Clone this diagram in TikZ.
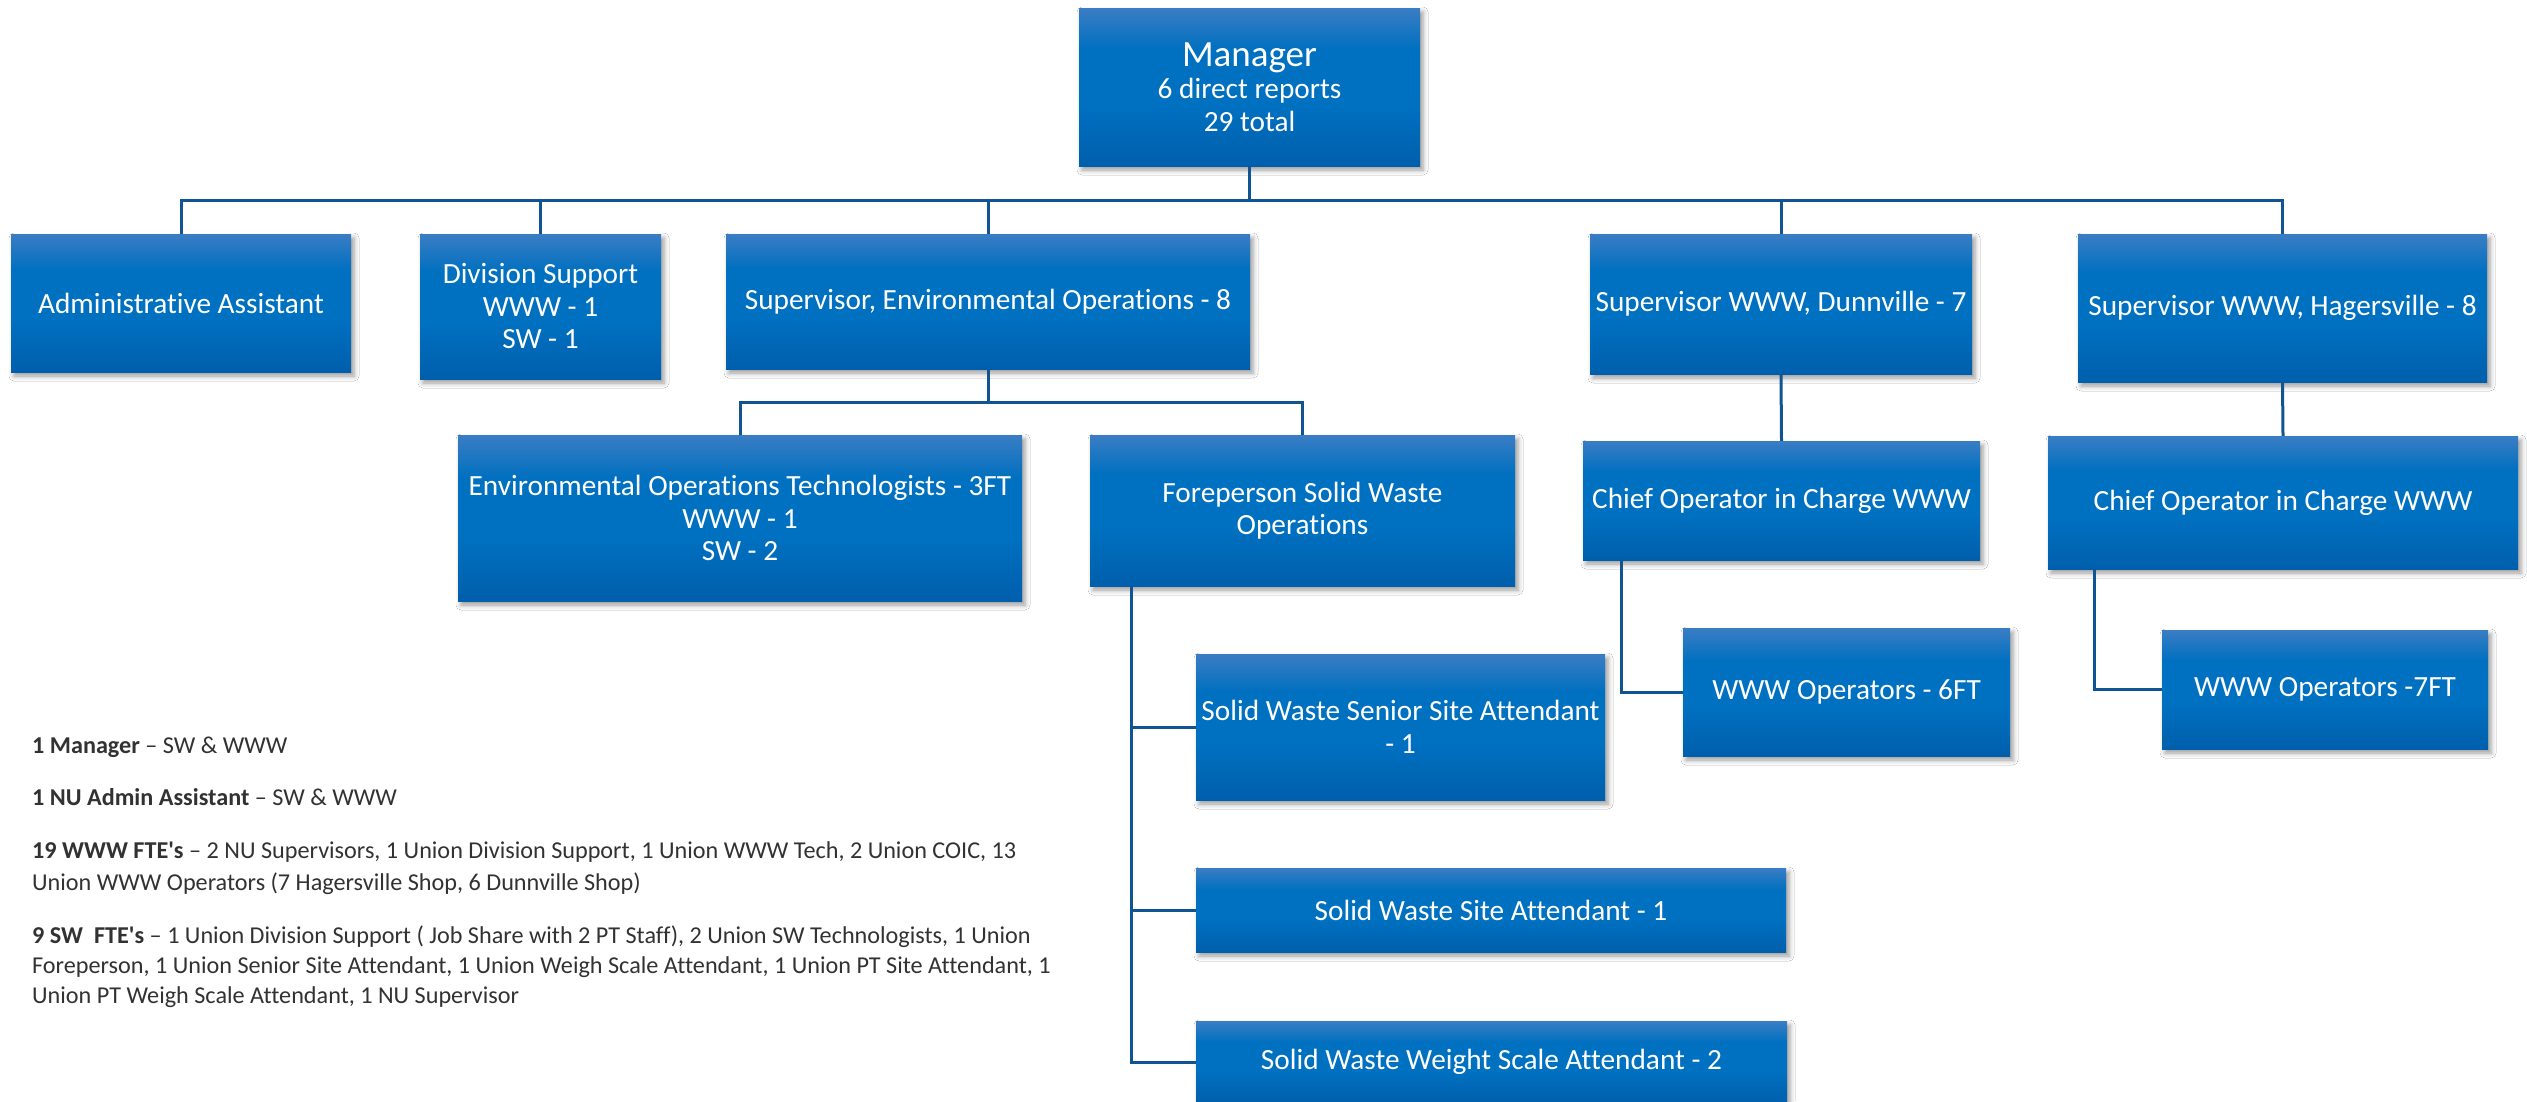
\documentclass[tikz,border=0pt]{standalone}
\usepackage{fontspec}
\setmainfont{Carlito}[Ligatures={NoCommon}]
\usetikzlibrary{shadows.blur}
\definecolor{orgtop}{RGB}{58,125,196}
\definecolor{orgmid}{RGB}{0,112,192}
\definecolor{orgbot}{RGB}{0,95,172}
\definecolor{connc}{RGB}{16,84,146}
\definecolor{notec}{RGB}{50,50,50}
\pgfdeclareverticalshading{orgshade}{100bp}{color(0bp)=(orgbot); color(25bp)=(orgbot); color(44bp)=(orgmid); color(62bp)=(orgmid); color(75bp)=(orgtop); color(100bp)=(orgtop)}
\begin{document}
\begin{tikzpicture}[x=1pt,y=-1pt,
  orgbox/.style={rectangle, inner sep=0pt, shade, shading=orgshade, text=white, align=center,
    font=\fontsize{29.3}{32.5}\selectfont,
    blur shadow={shadow xshift=3pt, shadow yshift=-4pt, shadow blur radius=5pt, shadow opacity=40}},
  conn/.style={draw=connc, line width=3pt},
  note/.style={anchor=base west, inner sep=0pt, text=notec, font=\fontsize{24.2}{31}\selectfont}]
\useasboundingbox (0,0) rectangle (2527,1101);
\fill[white] (0,0) rectangle (2527,1101);

% boxes
\node[orgbox, minimum width=341pt, minimum height=158pt] (mgr) at (1249.5,87)
  {{\fontsize{37}{40}\selectfont Manager}\\6 direct reports\\29 total};
\node[orgbox, minimum width=340pt, minimum height=138pt] (admin) at (181,303) {Administrative Assistant};
\node[orgbox, minimum width=241pt, minimum height=145pt] (divsup) at (540.5,306.5) {Division Support\\WWW - 1\\SW - 1};
\node[orgbox, minimum width=524pt, minimum height=135pt] (supenv) at (988,301.5) {Supervisor, Environmental Operations - 8};
\node[orgbox, minimum width=382pt, minimum height=140pt] (supdun) at (1781,304) {Supervisor WWW, Dunnville - 7};
\node[orgbox, minimum width=409pt, minimum height=148pt] (suphag) at (2282.5,308) {Supervisor WWW, Hagersville - 8};
\node[orgbox, minimum width=564pt, minimum height=166pt] (envtech) at (740,518) {Environmental Operations Technologists - 3FT\\WWW - 1\\SW - 2};
\node[orgbox, minimum width=425pt, minimum height=151pt] (fore) at (1302.5,510.5) {Foreperson Solid Waste\\Operations};
\node[orgbox, minimum width=397pt, minimum height=119pt] (chiefdun) at (1781.5,500.5) {Chief Operator in Charge WWW};
\node[orgbox, minimum width=470pt, minimum height=133pt] (chiefhag) at (2283,502.5) {Chief Operator in Charge WWW};
\node[orgbox, minimum width=327pt, minimum height=128pt] (opdun) at (1846.5,692) {WWW Operators - 6FT};
\node[orgbox, minimum width=326pt, minimum height=119pt] (ophag) at (2325,689.5) {WWW Operators -7FT};
\node[orgbox, minimum width=409pt, minimum height=146pt] (senior) at (1400.5,727) {Solid Waste Senior Site Attendant\\- 1};
\node[orgbox, minimum width=590pt, minimum height=84pt] (site) at (1491,910) {Solid Waste Site Attendant - 1};
\node[orgbox, minimum width=591pt, minimum height=82pt] (weight) at (1491.5,1062) {Solid Waste Weight Scale Attendant - 2};

% connectors
\coordinate (bus) at (0,200);
\coordinate (bus2) at (0,402);
\foreach \c in {admin,divsup,supenv,supdun,suphag}
  \draw[conn] (mgr.south) |- (\c.north |- bus) -- (\c.north);
\foreach \c in {envtech,fore}
  \draw[conn] (supenv.south) |- (\c.north |- bus2) -- (\c.north);
\draw[conn] (supdun.south) -- (chiefdun.north);
\draw[conn] (suphag.south) -- (chiefhag.north);
\foreach \c in {senior,site,weight}
  \draw[conn] ([xshift=42pt]fore.south west) |- (\c.west);
\draw[conn] ([xshift=39pt]chiefdun.south west) |- (opdun.west);
\draw[conn] ([xshift=47pt]chiefhag.south west) |- (ophag.west);

% notes
\node[note] (n1) at (32,753) {\textbf{1 Manager} – SW \& WWW};
\node[note] (n2) at (32,805) {\textbf{1 NU Admin Assistant} – SW \& WWW};
\node[note] (n3) at (32,858) {\textbf{19 WWW FTE\textquotesingle s} – 2 NU Supervisors, 1 Union Division Support, 1 Union WWW Tech, 2 Union COIC, 13};
\node[note] (n4) at (32,890) {Union WWW Operators (7 Hagersville Shop, 6 Dunnville Shop)};
\node[note] (n5) at (32,943) {\textbf{9 SW\ \ FTE\textquotesingle s} – 1 Union Division Support ( Job Share with 2 PT Staff), 2 Union SW Technologists, 1 Union};
\node[note] (n6) at (32,973) {Foreperson, 1 Union Senior Site Attendant, 1 Union Weigh Scale Attendant, 1 Union PT Site Attendant, 1};
\node[note] (n7) at (32,1003) {Union PT Weigh Scale Attendant, 1 NU Supervisor};
\end{tikzpicture}
\end{document}
